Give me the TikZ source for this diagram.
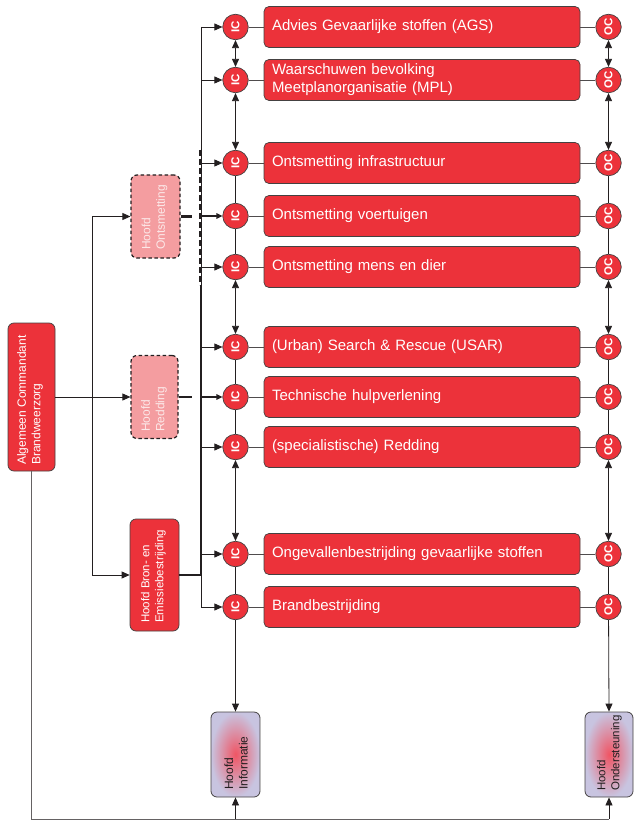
\documentclass[tikz,border=0pt]{standalone}
\usepackage{fontspec}
\setmainfont{Liberation Sans}
\usetikzlibrary{arrows.meta}
\definecolor{boxred}{RGB}{236,50,58}
\definecolor{pinkfill}{RGB}{244,157,160}
\definecolor{pinktext}{RGB}{252,232,232}
\definecolor{lav}{RGB}{200,196,224}
\definecolor{glow}{RGB}{240,85,100}
\definecolor{ln}{RGB}{35,31,32}
\begin{document}
\begin{tikzpicture}[x=1pt,y=-1pt,
  tip/.style={-{Triangle[length=8pt,width=7pt]}},
  dtip/.style={{Triangle[length=8pt,width=7pt]}-{Triangle[length=8pt,width=7pt]}},
  ttip/.style={line width=1.8pt,-{Triangle[length=6pt,width=5.5pt]}},
  conn/.style={draw=ln, line width=0.8pt},
  thinln/.style={draw=ln!80, line width=0.6pt},
  rowbox/.style={rectangle, rounded corners=5pt, fill=boxred, draw=ln!85, line width=0.7pt,
    minimum width=316pt, minimum height=41pt, text width=300pt, inner xsep=8pt, inner ysep=0pt,
    align=left, text=white, font=\fontsize{15}{18}\selectfont},
  circ/.style={circle, fill=boxred, draw=ln!85, line width=0.7pt, minimum size=25.5pt, inner sep=0pt,
    text=white, font=\bfseries\fontsize{11.5}{11.5}\selectfont},
  redbox/.style={rectangle, rounded corners=6pt, fill=boxred, draw=ln!85, line width=0.7pt},
  dashbox/.style={rectangle, rounded corners=6pt, fill=pinkfill, draw=ln, line width=1.2pt, dash pattern=on 3.5pt off 2.5pt},
  lavbox/.style={rectangle, rounded corners=6pt, inner color=glow, outer color=lav, draw=ln!85, line width=0.8pt},
  vtext/.style={rotate=90, anchor=west, align=left, inner sep=0pt, font=\fontsize{12}{14.5}\selectfont}
]
\useasboundingbox (0,0) rectangle (634,821);

% left hierarchy boxes
\node[redbox, minimum width=47pt, minimum height=148pt] (ac) at (31.5,397) {};
\node[vtext, text=white] (tac) at (30,465) {Algemeen Commandant\\Brandweerzorg};

\node[dashbox, minimum width=49pt, minimum height=83pt] (ho) at (155.5,216.5) {};
\node[vtext, text=pinktext] (tho) at (154.5,250) {Hoofd\\Ontsmetting};

\node[dashbox, minimum width=47pt, minimum height=83pt] (hr) at (154.5,397) {};
\node[vtext, text=pinktext] (thr) at (154,432) {Hoofd\\Redding};

\node[redbox, minimum width=49pt, minimum height=112pt] (hb) at (154.5,575) {};
\node[vtext, text=white, font=\fontsize{11.5}{14}\selectfont] (thb) at (153.5,623) {Hoofd Bron- en\\Emissiebestrijding};

\node[lavbox, minimum width=49pt, minimum height=85pt] (hi) at (235.5,754.5) {};
\node[vtext, text=ln] (thi) at (236,790) {Hoofd\\Informatie};

\node[lavbox, minimum width=48pt, minimum height=85pt] (hon) at (609,754.5) {};
\node[vtext, text=ln, font=\fontsize{11.5}{14}\selectfont] (thon) at (609.5,791) {Hoofd\\Ondersteuning};

% rows
\foreach \i/\y/\t in {1/27/{Advies Gevaarlijke stoffen (AGS)},
  2/80/{Waarschuwen bevolking\\Meetplanorganisatie (MPL)},
  3/163/{Ontsmetting infrastructuur},
  4/216/{Ontsmetting voertuigen},
  5/267/{Ontsmetting mens en dier},
  6/347/{(Urban) Search \& Rescue (USAR)},
  7/397/{Technische hulpverlening},
  8/447/{(specialistische) Redding},
  9/554/{Ongevallenbestrijding gevaarlijke stoffen},
  10/607/{Brandbestrijding}}{
  \node[rowbox] (b\i) at (422,\y) {\t};
  \node[circ] (ic\i) at (235.5,\y) {\rotatebox{90}{IC}};
  \node[circ] (oc\i) at (608.5,\y) {\rotatebox{90}{OC}};
  \draw[thinln] (ic\i) -- (b\i);
  \draw[thinln] (b\i) -- (oc\i);
}

% left connectors
\coordinate (lt) at (92,216.5);
\coordinate (lb) at (92,575);
\draw[conn, tip] (ac.east) -- (hr.west);
\draw[conn] (lt) -- (lb);
\draw[conn, tip] (lt) -- (ho.west);
\draw[conn, tip] (lb) -- (hb.west);

% bus
\coordinate (bt) at (201,27);
\coordinate (bb) at (201,607);
\coordinate (bm1) at (201,150);
\coordinate (bm2) at (201,285);
\draw[conn] (bt) -- (bb);
\draw[ln, line width=1.6pt, dash pattern=on 6pt off 3pt] ([xshift=-1pt]bm1) -- ([xshift=-1pt]bm2);
\draw[ln, line width=1.6pt] (bm2) -- (bt |- hb);
\draw[ln, line width=1.6pt] (hb.east) -- (bt |- hb);
\coordinate (so) at (192,216.5);
\coordinate (sr) at (192,397);
\draw[ln, line width=2.2pt] (ho.east) -- (so);
\draw[ln, line width=2.2pt] (hr.east) -- (sr);

\foreach \i in {1,2,3,5,6,8,9,10}{
  \draw[conn, tip] (bt |- ic\i) -- (ic\i);
}
\draw[draw=ln, ttip] (bt |- ic4) -- (ic4);
\draw[draw=ln, ttip] (bt |- ic7) -- (ic7);

% vertical chains
\foreach \c in {ic,oc}{
  \draw[conn, dtip] (\c1) -- (\c2);
  \draw[conn, dtip] (\c2) -- (\c3);
  \draw[conn] (\c3) -- (\c4);
  \draw[conn] (\c4) -- (\c5);
  \draw[conn, dtip] (\c5) -- (\c6);
  \draw[conn] (\c6) -- (\c7);
  \draw[conn] (\c7) -- (\c8);
  \draw[conn, dtip] (\c8) -- (\c9);
  \draw[conn] (\c9) -- (\c10);
}
\draw[conn, tip] (ic10) -- (hi.north);
\draw[conn, tip] (oc10) -- (hon.north);

% bottom return line
\coordinate (bl) at (31.5,819);
\coordinate (br) at (609,819);
\draw[draw=ln!70, line width=1pt] (ac.south) -- (bl) -- (br);
\draw[conn, tip] (hi |- bl) -- (hi.south);
\draw[conn, tip] (hon |- bl) -- (hon.south);
\end{tikzpicture}
\end{document}
